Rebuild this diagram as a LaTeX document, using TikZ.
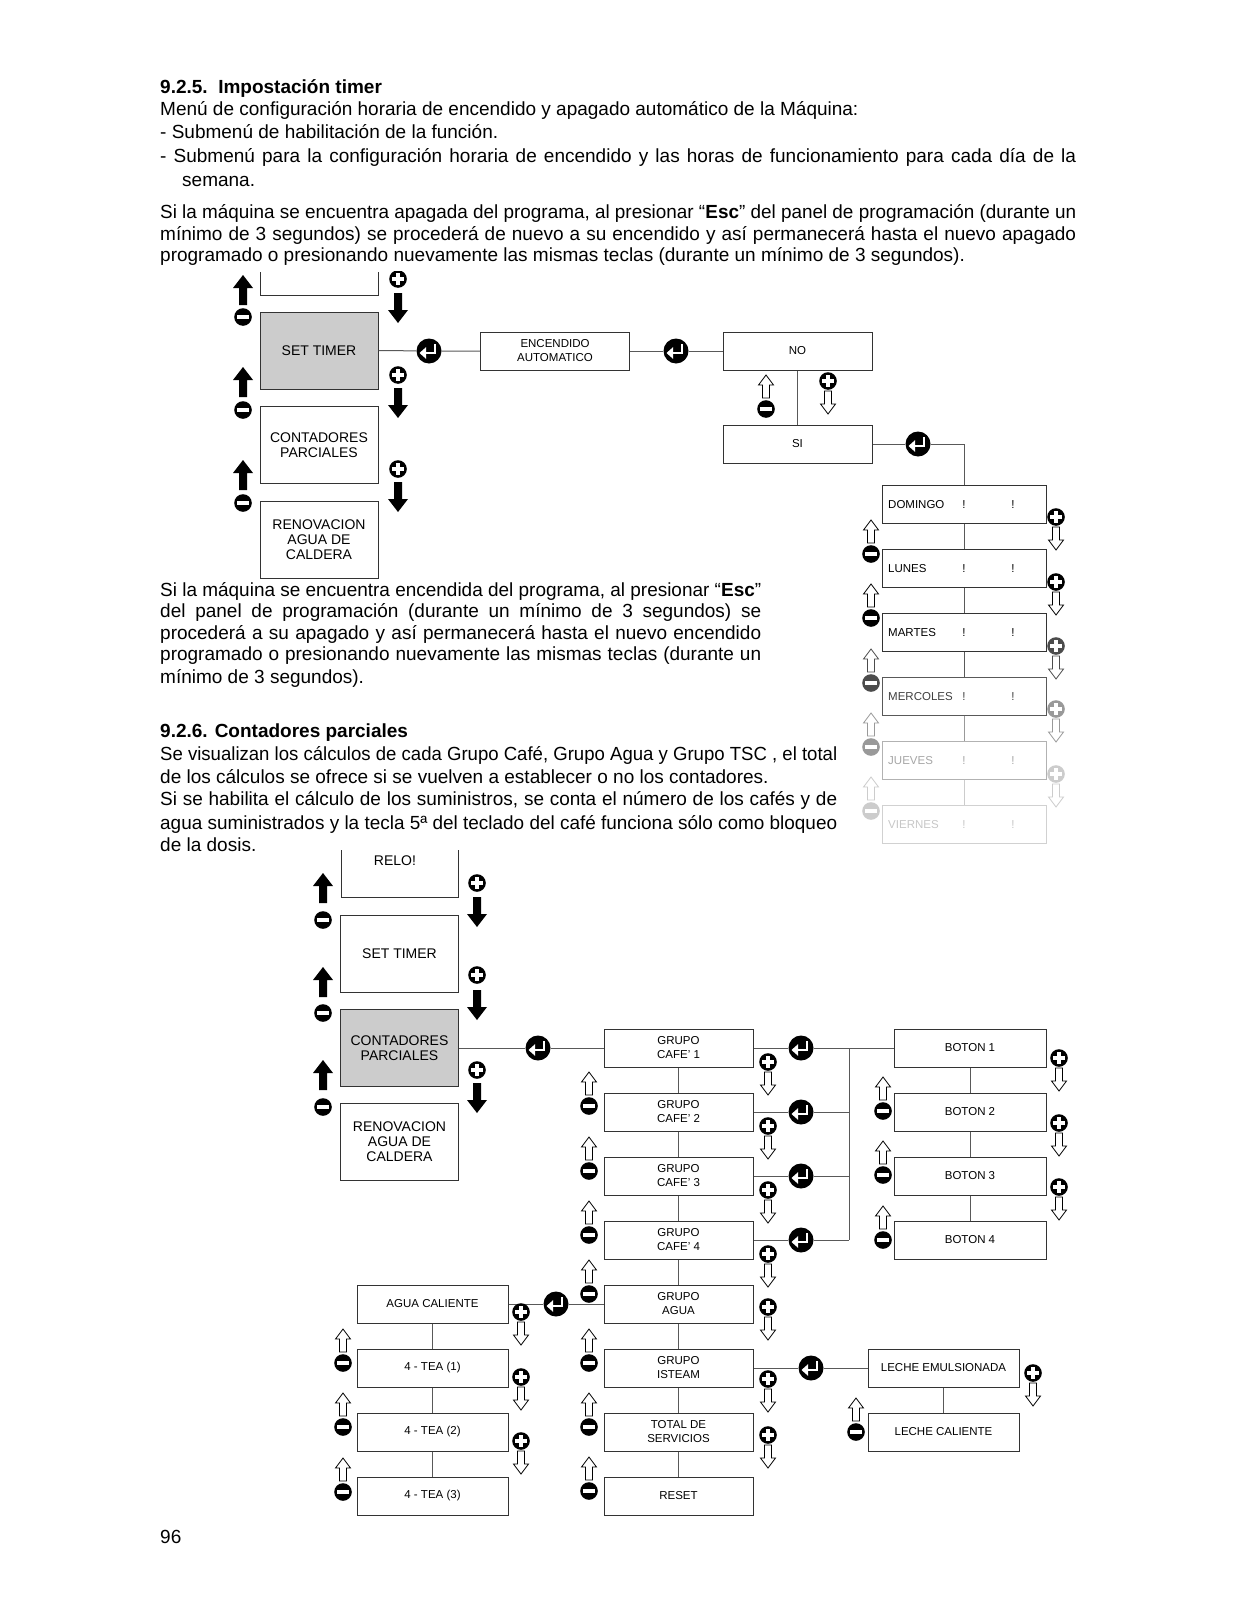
\documentclass[tikz,border=0pt]{standalone}
\usepackage{fontspec}
\setmainfont{Liberation Sans}
\usepackage{graphicx}
\newsavebox\jlbox
\newcommand\jline[2]{\sbox\jlbox{#2}\ifdim\wd\jlbox>#1\relax\resizebox{#1}{\height}{#2}\else\makebox[#1][s]{#2}\fi}
\newcommand\bodyf{\fontsize{19}{23}\selectfont}
\begin{document}
\begin{tikzpicture}[x=1pt,y=-1pt,
  pics/pminus/.style={code={\fill (0,0) circle (8.8); \fill[white] (-5.6,-2.1) rectangle (5.6,2.1);}},
  pics/pplus/.style={code={\fill (0,0) circle (8.8); \fill[white] (-5.6,-2.1) rectangle (5.6,2.1); \fill[white] (-2.1,-5.6) rectangle (2.1,5.6);}},
  pics/upS/.style={code={\fill (0,0) -- (10,13) -- (4,13) -- (4,30) -- (-4,30) -- (-4,13) -- (-10,13) -- cycle;}},
  pics/dnS/.style={code={\fill (0,0) -- (10,-13) -- (4,-13) -- (4,-30) -- (-4,-30) -- (-4,-13) -- (-10,-13) -- cycle;}},
  pics/upO/.style={code={\filldraw[fill=white, line width=0.8pt] (0,0) -- (7.5,10) -- (3.5,10) -- (3.5,23) -- (-3.5,23) -- (-3.5,10) -- (-7.5,10) -- cycle;}},
  pics/dnO/.style={code={\filldraw[fill=white, line width=0.8pt] (0,0) -- (7.5,-10) -- (3.5,-10) -- (3.5,-23) -- (-3.5,-23) -- (-3.5,-10) -- (-7.5,-10) -- cycle;}},
  pics/lm/.style={code={\pic at (0,-34) {upO}; \pic at (0,0) {pminus};}},
  pics/rp/.style={code={\pic at (0,0) {pplus}; \pic at (0,33) {dnO};}},
  txt/.style={anchor=base west, inner sep=0, font=\bodyf},
  bx/.style={draw=black!80, line width=1pt, inner sep=0, align=center},
  big/.style={bx, minimum width=118pt, minimum height=77pt, font=\fontsize{14}{15}\selectfont},
  sm/.style={bx, minimum width=149pt, minimum height=38pt, font=\fontsize{11.5}{14}\selectfont},
  day/.style={bx, minimum width=164pt, minimum height=38pt},
  dtxt/.style={inner sep=0, font=\fontsize{11.5}{14}\selectfont, text height=8.3pt, text depth=0pt},
  conn/.style={draw=black!65, line width=1pt},
  ent/.style={circle, fill=black, minimum size=25pt, inner sep=0, path picture={
    \begin{scope}[shift={(path picture bounding box.center)}]
      \draw[white, line width=2.6pt] (6,-7) -- (6,2) -- (-3,2);
      \fill[white] (-9.5,2) -- (-3,-3.8) -- (-3,7.8) -- cycle;
    \end{scope}}}
]
\fill[white] (0,0) rectangle (1237,1600);
\useasboundingbox (0,0) rectangle (1237,1600);

% ---------- text ----------
\node[txt] (h1) at (160,94) {\textbf{9.2.5.\ \ Impostación timer}};
\node[txt] (p1) at (160,116) {Menú de configuración horaria de encendido y apagado automático de la Máquina:};
\node[txt] (p2) at (160,139) {- Submenú de habilitación de la función.};
\node[txt] (p3) at (160,162) {\jline{916pt}{- Submenú para la configuración horaria de encendido y las horas de funcionamiento para cada día de la}};
\node[txt] (p4) at (182,186) {semana.};
\node[txt] (p5) at (160,218) {\jline{916pt}{Si la máquina se encuentra apagada del programa, al presionar “\textbf{Esc}” del panel de programación (durante un}};
\node[txt] (p6) at (160,240) {\jline{916pt}{mínimo de 3 segundos) se procederá de nuevo a su encendido y así permanecerá hasta el nuevo apagado}};
\node[txt] (p7) at (160,261) {programado o presionando nuevamente las mismas teclas (durante un mínimo de 3 segundos).};

\node[txt] (q1) at (160,596) {\jline{601pt}{Si la máquina se encuentra encendida del programa, al presionar “\textbf{Esc}”}};
\node[txt] (q2) at (160,617) {\jline{601pt}{del panel de programación (durante un mínimo de 3 segundos) se}};
\node[txt] (q3) at (160,639) {\jline{601pt}{procederá a su apagado y así permanecerá hasta el nuevo encendido}};
\node[txt] (q4) at (160,660) {\jline{601pt}{programado o presionando nuevamente las mismas teclas (durante un}};
\node[txt] (q5) at (160,683) {mínimo de 3 segundos).};
\node[txt] (h2) at (160,737) {\textbf{9.2.6. Contadores parciales}};
\node[txt] (r1) at (160,760) {\jline{677pt}{Se visualizan los cálculos de cada Grupo Café, Grupo Agua y Grupo TSC , el total}};
\node[txt] (r2) at (160,783) {de los cálculos se ofrece si se vuelven a establecer o no los contadores.};
\node[txt] (r3) at (160,805) {\jline{677pt}{Si se habilita el cálculo de los suministros, se conta el número de los cafés y de}};
\node[txt] (r4) at (160,829) {\jline{677pt}{agua suministrados y la tecla 5ª del teclado del café funciona sólo como bloqueo}};
\node[txt] (r5) at (160,851) {de la dosis.};
\node[txt] (pg) at (160,1543) {96};

% ---------- diagram 1 ----------
\draw[bx] (260,272) -- (260,295) -- (378,295) -- (378,272);
\node[big, fill=black!20] (st1) at (319,350.5) {SET TIMER};
\node[big] (cp1) at (319,445) {CONTADORES\\PARCIALES};
\node[big] (rn1) at (319,539.5) {RENOVACION\\AGUA DE\\CALDERA};
\node[sm] (enc) at (555,351) {ENCENDIDO\\AUTOMATICO};
\node[sm] (no) at (797.5,351) {NO};
\node[sm] (si) at (797.5,444) {SI};
\node[ent] (e1) at (429,351) {};
\node[ent] (e2) at (676,351) {};
\node[ent] (e3) at (918,444) {};
\coordinate (k1) at (964,444);

\foreach \i/\nm/\bc/\tc in {1/DOMINGO/black!80/black, 2/LUNES/black!80/black, 3/MARTES/black!80/black, 4/MERCOLES/black!65/black!75, 5/JUEVES/black!30/black!35, 6/VIERNES/black!18/black!22}{
  \pgfmathsetmacro\yy{504+64*(\i-1)}
  \node[day, draw=\bc] (d\i) at (964,\yy) {};
  \node[dtxt, text=\tc, anchor=west] (dn\i) at (888,\yy) {\nm};
  \node[dtxt, text=\tc] (dx\i) at (964,\yy) {!};
  \node[dtxt, text=\tc] (dy\i) at (1013,\yy) {!};
}

\draw[conn] (st1.east) -- (e1) -- (enc.west);
\draw[conn] (enc.east) -- (e2) -- (no.west);
\draw[conn] (no.south) -- (si.north);
\draw[conn] (si.east) -- (e3) -- (k1) -- (d1.north);
\draw[conn] (d1.south) -- (d2.north);
\draw[conn] (d2.south) -- (d3.north);
\draw[conn] (d3.south) -- (d4.north);
\draw[conn, draw=black!40] (d4.south) -- (d5.north);
\draw[conn, draw=black!20] (d5.south) -- (d6.north);

% left column icons (solid)
\foreach \t/\m in {275/317, 367/410, 460/503}{\pic at (243,\t) {upS}; \pic at (243,\m) {pminus};}
\begin{scope}\clip (380,271) rectangle (420,300); \pic at (398,279) {pplus};\end{scope}
\foreach \p in {375,469}{\pic at (398,\p) {pplus};}
\foreach \t in {323,418,512}{\pic at (398,\t) {dnS};}

\pic at (766,409) {lm};
\pic at (828,381) {rp};
\foreach \m/\p/\c in {554/517/black, 618/582/black, 683/646/black!70, 747/709/black!40, 811/774/black!20}{
  \pic[\c] at (871,\m) {lm};
  \pic[\c] at (1056,\p) {rp};
}

% ---------- diagram 2 ----------
\draw[bx] (341,850) -- (341,897) -- (458,897) -- (458,850);
\node[inner sep=0, font=\fontsize{14}{15}\selectfont] (relo) at (395,861) {RELO!};
\node[big] (st2) at (399.5,953.5) {SET TIMER};
\node[big, fill=black!20] (cp2) at (399.5,1048) {CONTADORES\\PARCIALES};
\node[big] (rn2) at (399.5,1141.5) {RENOVACION\\AGUA DE\\CALDERA};

\foreach \t/\m in {873/920, 967/1013, 1060/1107}{\pic at (323,\t) {upS}; \pic at (323,\m) {pminus};}
\foreach \p/\t in {883/927, 975/1020, 1070/1113}{\pic at (477,\p) {pplus}; \pic at (477,\t) {dnS};}

\node[sm] (c0) at (678.5,1048) {GRUPO\\CAFE’ 1};
\node[sm] (c1) at (678.5,1112) {GRUPO\\CAFE’ 2};
\node[sm] (c2) at (678.5,1176) {GRUPO\\CAFE’ 3};
\node[sm] (c3) at (678.5,1240) {GRUPO\\CAFE’ 4};
\node[sm] (c4) at (678.5,1304) {GRUPO\\AGUA};
\node[sm] (c5) at (678.5,1368) {GRUPO\\ISTEAM};
\node[sm] (c6) at (678.5,1432) {TOTAL DE\\SERVICIOS};
\node[sm] (c7) at (678.5,1496) {RESET};

\node[sm, minimum width=152pt] (bt0) at (970,1048) {BOTON 1};
\node[sm, minimum width=152pt] (bt1) at (970,1112) {BOTON 2};
\node[sm, minimum width=152pt] (bt2) at (970,1176) {BOTON 3};
\node[sm, minimum width=152pt] (bt3) at (970,1240) {BOTON 4};

\node[sm, minimum width=151pt] (a0) at (432.5,1304) {AGUA CALIENTE};
\node[sm, minimum width=151pt] (a1) at (432.5,1368) {4 - TEA (1)};
\node[sm, minimum width=151pt] (a2) at (432.5,1432) {4 - TEA (2)};
\node[sm, minimum width=151pt] (a3) at (432.5,1496) {4 - TEA (3)};

\node[sm, minimum width=151pt] (l0) at (943.5,1368) {LECHE EMULSIONADA};
\node[sm, minimum width=151pt] (l1) at (943.5,1432) {LECHE CALIENTE};

\node[ent] (e4) at (538,1048) {};
\foreach \k in {0,1,2,3}{
  \pgfmathsetmacro\yy{1048+64*\k}
  \node[ent] (ec\k) at (801,\yy) {};
  \coordinate (b\k) at (849,\yy);
}
\node[ent] (ea) at (556,1304) {};
\node[ent] (el) at (811,1368) {};

\draw[conn] (cp2.east) -- (e4) -- (c0.west);
\foreach \k in {0,1,2,3}{\draw[conn] (c\k.east) -- (ec\k) -- (b\k);}
\draw[conn] (b0) -- (b3);
\draw[conn] (b0) -- (bt0.west);
\draw[conn] (a0.east) -- (ea) -- (c4.west);
\draw[conn] (c5.east) -- (el) -- (l0.west);
\foreach \u/\v in {c0/c1,c1/c2,c2/c3,c3/c4,c4/c5,c5/c6,c6/c7,bt0/bt1,bt1/bt2,bt2/bt3,a0/a1,a1/a2,a2/a3,l0/l1}{\draw[conn] (\u.south) -- (\v.north);}

\foreach \m in {1106,1171,1235,1294,1363,1427,1491}{\pic at (589,\m) {lm};}
\foreach \p in {1062,1126,1190,1254,1307,1379,1435}{\pic at (768,\p) {rp};}
\foreach \m in {1363,1427,1492}{\pic at (343,\m) {lm};}
\foreach \p in {1312,1377,1441}{\pic at (521,\p) {rp};}
\foreach \m in {1111,1175,1240}{\pic at (883,\m) {lm};}
\foreach \p in {1058,1123,1187}{\pic at (1059,\p) {rp};}
\pic at (856,1432) {lm};
\pic at (1033,1373) {rp};
\end{tikzpicture}
\end{document}
